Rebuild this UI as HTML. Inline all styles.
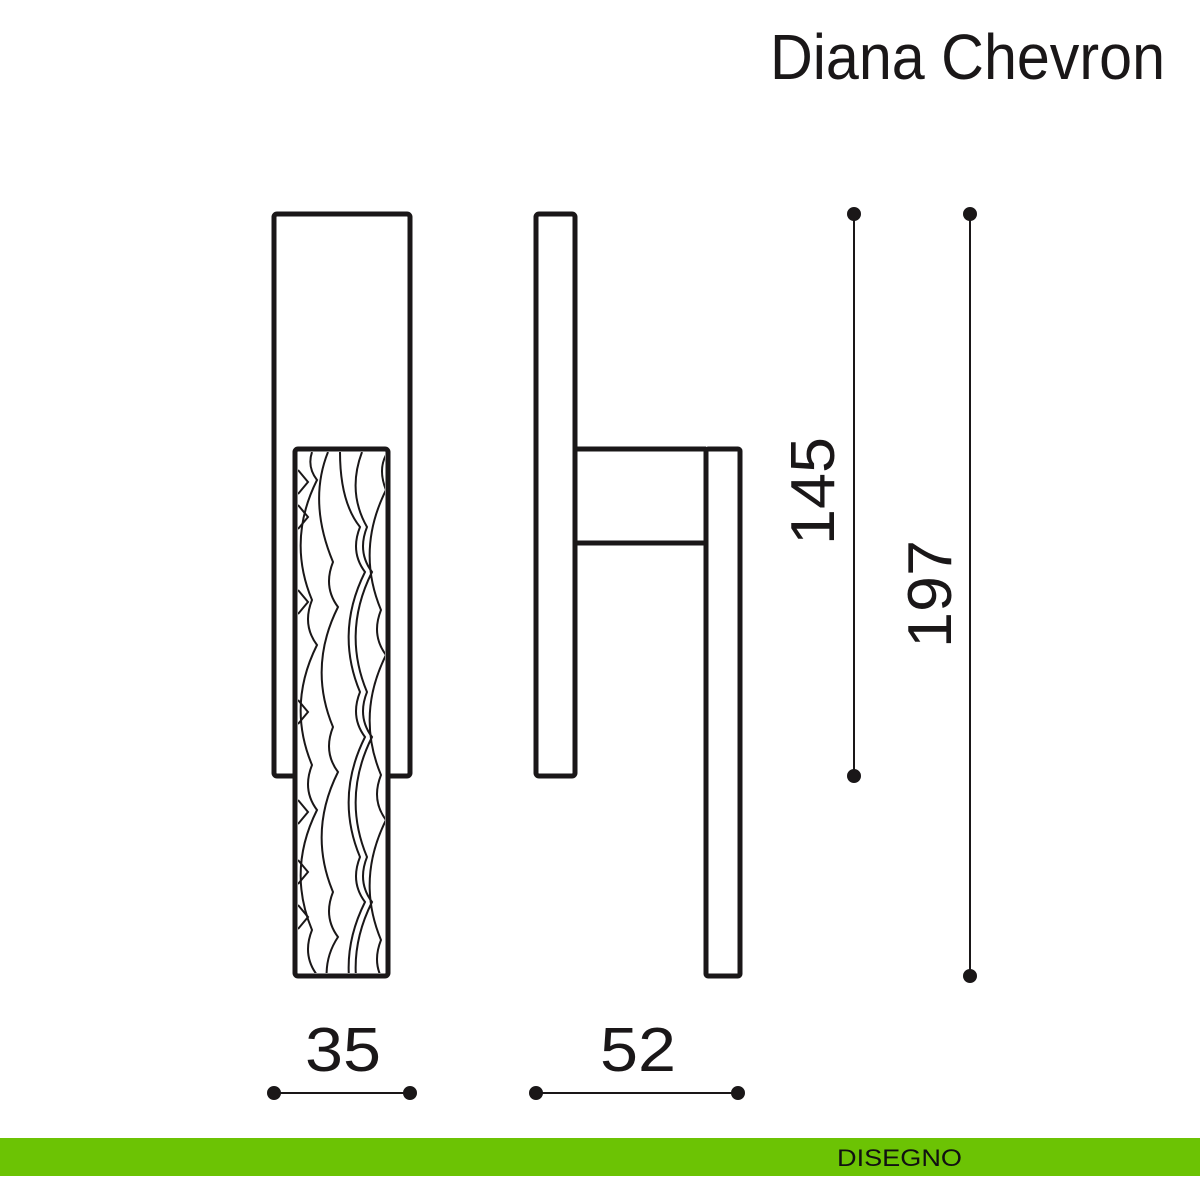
<!DOCTYPE html>
<html><head><meta charset="utf-8"><style>
html,body{margin:0;padding:0;background:#fff;}
svg{display:block;}
</style></head><body>
<svg width="1200" height="1200" viewBox="0 0 1200 1200" xmlns="http://www.w3.org/2000/svg">
<rect width="1200" height="1200" fill="#fff"/>
<text x="770" y="79" font-family="Liberation Sans, sans-serif" font-size="64" fill="#1a1718" textLength="395" lengthAdjust="spacingAndGlyphs">Diana Chevron</text>

<g fill="none" stroke="#1a1718" stroke-width="5" stroke-linejoin="round">
<!-- left view -->
<rect x="274" y="214" width="136" height="562" rx="3"/>
<rect x="295" y="449" width="93" height="527" rx="3" fill="#fff"/>
<!-- right view -->
<rect x="536" y="214" width="39" height="562" rx="3" fill="#fff"/>
<path d="M575 449 H706 M575 543 H706"/>
<rect x="706" y="449" width="34" height="527" rx="2" fill="#fff"/>
</g>

<clipPath id="c"><rect x="298" y="452" width="87" height="521"/></clipPath>
<g clip-path="url(#c)" fill="none" stroke="#1a1718" stroke-width="2">
<path d="M298 470 l10 12 l-10 12 M298 505 l10 12 l-10 12 M298 590 l10 12 l-10 12 M298 700 l10 12 l-10 12 M298 800 l10 12 l-10 12 M298 860 l10 12 l-10 12 M298 905 l10 12 l-10 12"/>
<path d="M312 452 q-5 15 5 28 q-30 60 -5 120 q-10 25 5 45 q-30 60 -5 120 q-10 25 5 45 q-30 60 -5 120 q-10 25 5 45"/>
<path d="M328 452 q-20 50 5 110 q-10 25 5 45 q-30 60 -5 120 q-10 25 5 45 q-30 60 -5 120 q-10 25 5 45 q-20 30 -5 70"/>
<path d="M340 452 q0 50 20 75 q-10 25 5 45 q-30 60 -5 120 q-10 25 5 45 q-30 60 -5 120 q-10 25 5 45 q-30 60 -5 120"/>
<path d="M362 452 q-15 40 5 75 q-10 25 5 45 q-30 60 -5 120 q-10 25 5 45 q-30 60 -5 120 q-10 25 5 45 q-30 60 -5 120"/>
<path d="M386 455 q-8 15 0 35 q-30 60 -5 120 q-10 25 5 45 q-30 60 -5 120 q-10 25 5 45 q-30 60 -5 120 q-10 25 5 45 q-20 30 0 60"/>
</g>

<g stroke="#1a1718" stroke-width="2" fill="#1a1718">
<line x1="854" y1="214" x2="854" y2="776"/>
<circle cx="854" cy="214" r="6"/><circle cx="854" cy="776" r="6"/>
<line x1="970" y1="214" x2="970" y2="976"/>
<circle cx="970" cy="214" r="6"/><circle cx="970" cy="976" r="6"/>
<line x1="274" y1="1093" x2="410" y2="1093"/>
<circle cx="274" cy="1093" r="6"/><circle cx="410" cy="1093" r="6"/>
<line x1="536" y1="1093" x2="738" y2="1093"/>
<circle cx="536" cy="1093" r="6"/><circle cx="738" cy="1093" r="6"/>
</g>

<g font-family="Liberation Sans, sans-serif" font-size="62" fill="#1a1718" text-anchor="middle">
<text x="343" y="1071" textLength="76" lengthAdjust="spacingAndGlyphs">35</text>
<text x="638" y="1071" textLength="76" lengthAdjust="spacingAndGlyphs">52</text>
<text transform="translate(834 491) rotate(-90)" textLength="108" lengthAdjust="spacingAndGlyphs">145</text>
<text transform="translate(951 594) rotate(-90)" textLength="108" lengthAdjust="spacingAndGlyphs">197</text>
</g>

<rect x="0" y="1138" width="1200" height="38" fill="#6cc304"/>
<text x="837" y="1166" font-family="Liberation Sans, sans-serif" font-size="24" fill="#111" textLength="125" lengthAdjust="spacingAndGlyphs">DISEGNO</text>
</svg>
</body></html>
